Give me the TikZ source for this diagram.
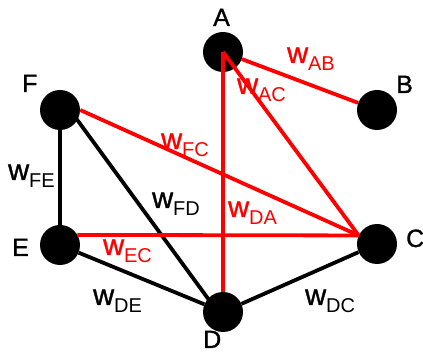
\documentclass[tikz,border=0pt]{standalone}
\usepackage{fontspec}
\setmainfont{Liberation Sans}
\newfontfamily\heavyfont{Liberation Sans}[FakeBold=1.2]
\definecolor{edgered}{RGB}{255,0,0}
\newcommand{\wlab}[1]{{\heavyfont\fontsize{29}{29}\selectfont w}\raisebox{-8pt}{\fontsize{20}{20}\selectfont #1}}
\begin{document}
\begin{tikzpicture}[x=1pt,y=-1pt,
  vertex/.style={circle,fill=black,minimum size=40pt,inner sep=0pt},
  vname/.style={anchor=base west,inner sep=0pt,font=\heavyfont\fontsize{25}{25}\selectfont},
  wname/.style={anchor=base west,inner sep=0pt},
  redge/.style={draw=edgered,line width=3.8pt},
  bedge/.style={draw=black,line width=3.8pt}]
\useasboundingbox (0,0) rectangle (423,352);
% vertices
\node[vertex] (A) at (223,52) {};
\node[vertex] (B) at (377,110) {};
\node[vertex] (C) at (377,244) {};
\node[vertex] (D) at (223,312) {};
\node[vertex] (E) at (60,245) {};
\node[vertex] (F) at (60,110) {};
% vertex names
\node[vname] (lA) at (213,26) {A};
\node[vname] (lB) at (396,93) {B};
\node[vname] (lC) at (406,247) {C};
\node[vname] (lD) at (203,348) {D};
\node[vname] (lE) at (12,256) {E};
\node[vname] (lF) at (22,92) {F};
% black edges
\draw[bedge] (F) -- (E);
\draw[bedge] ([xshift=10pt]F.center) -- ([xshift=8pt,yshift=-18pt]D.center);
\draw[bedge] (E) -- (D);
\draw[bedge] (D) -- (C);
% red edges
\draw[redge] (A) -- (B);
\draw[redge] (A.center) -- (C.155);
\draw[redge] (A.center) -- (D.north);
\draw[redge] (F.east) -- (C.155);
\draw[redge] (E.30) -- (C.155);
% weights
\node[wname,text=edgered] (wAB) at (287,63) {\wlab{AB}};
\node[wname,text=edgered] (wAC) at (237,94) {\wlab{AC}};
\node[wname,text=edgered] (wFC) at (161,149) {\wlab{FC}};
\node[wname,text=edgered] (wDA) at (228,217) {\wlab{DA}};
\node[wname,text=edgered] (wEC) at (103,255) {\wlab{EC}};
\node[wname] (wFE) at (8,180) {\wlab{FE}};
\node[wname] (wFD) at (152,208) {\wlab{FD}};
\node[wname] (wDE) at (93,305) {\wlab{DE}};
\node[wname] (wDC) at (305,305) {\wlab{DC}};
\end{tikzpicture}
\end{document}
